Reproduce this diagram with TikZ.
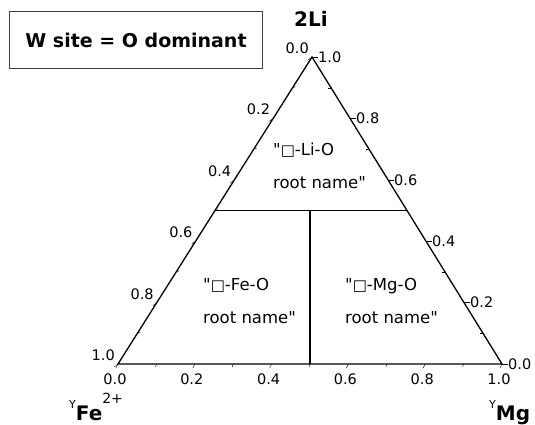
\documentclass[tikz,border=0pt]{standalone}
\usepackage{fontspec}
\setmainfont{DejaVu Sans}[Ligatures=TeXOff]
\usepackage{tikz}
\usetikzlibrary{calc}
\newcommand{\vac}{{\fontsize{15}{15}\selectfont □}}
\tikzstyle{ticklabel} = [inner sep=0pt, font=\fontsize{14.5}{14.5}\selectfont]
\tikzstyle{region}    = [align=left, inner sep=0pt, font=\fontsize{16.5}{33}\selectfont]
\tikzstyle{corner}    = [inner sep=0pt, font=\fontsize{20}{20}\selectfont\bfseries]
\tikzstyle{edge}      = [line width=1.3pt]
\tikzstyle{divider}   = [line width=1.1pt]
\tikzstyle{infobox}   = [draw=black!75, line width=0.8pt, minimum width=253pt, minimum height=57pt, font=\fontsize{19}{19}\selectfont\bfseries]

\begin{document}
\begin{tikzpicture}[x=1pt, y=-1pt]
    \useasboundingbox (0,0) rectangle (535,425);
    \coordinate (li) at (312,57);
    \coordinate (fe) at (118,364);
    \coordinate (mg) at (502,364);

    \draw[edge] (li) -- (fe) -- (mg) -- cycle;

    % field boundaries
    \coordinate (lm) at ($(li)!0.5!(fe)$);
    \coordinate (rm) at ($(li)!0.5!(mg)$);
    \coordinate (bm) at ($(fe)!0.5!(mg)$);
    \draw[divider] (lm) -- (rm);
    \draw[divider] (lm -| bm) -- (bm);

    % left axis
    \foreach \v/\t [count=\i] in {0/0.0, 0.2/0.2, 0.4/0.4, 0.6/0.6, 0.8/0.8, 1/1.0} {
        \draw ($(li)!\v!(fe)$) -- ++(-4,3);
        \node[ticklabel, anchor=south east] (lt\i) at ($(li)!\v!(fe)+(-3,-3)$) {\t};
    }
    \foreach \v in {0.1,0.3,0.5,0.7,0.9}
        \draw ($(li)!\v!(fe)$) -- ++(3,-1);

    % right axis
    \foreach \v/\t [count=\i] in {0/1.0, 0.2/0.8, 0.4/0.6, 0.6/0.4, 0.8/0.2, 1/0.0} {
        \draw ($(li)!\v!(mg)$) -- ++(6,0);
        \node[ticklabel, anchor=west] (rt\i) at ($(li)!\v!(mg)+(6,0)$) {\t};
    }
    \foreach \v in {0.1,0.3,0.5,0.7,0.9}
        \draw ($(li)!\v!(mg)$) -- ++(-3,0);

    % bottom axis
    \foreach \v/\t [count=\i] in {0/0.0, 0.2/0.2, 0.4/0.4, 0.6/0.6, 0.8/0.8, 1/1.0} {
        \draw ($(fe)!\v!(mg)$) -- ++(-2,4);
        \node[ticklabel, anchor=north] (bt\i) at ($(fe)!\v!(mg)+(-3,10)$) {\t};
    }
    \foreach \v in {0.1,0.3,0.5,0.7,0.9}
        \draw ($(fe)!\v!(mg)$) -- ++(-1,3);

    % end members
    \node[corner] (lilab) at (311,19) {2Li};
    \node[corner, anchor=base west] (felab) at (69,420)
        {\raisebox{12pt}{\fontsize{11}{11}\selectfont\mdseries Y}Fe\raisebox{17pt}{\fontsize{14}{14}\selectfont\mdseries 2+}};
    \node[corner, anchor=base west] (mglab) at (489,420)
        {\raisebox{12pt}{\fontsize{11}{11}\selectfont\mdseries Y}Mg};

    % root names
    \node[region, anchor=north west] (lireg) at (273,143) {"\vac-Li-O\\root name"};
    \node[region, anchor=north west] (fereg) at (203,278) {"\vac-Fe-O\\root name"};
    \node[region, anchor=north west] (mgreg) at (345,278) {"\vac-Mg-O\\root name"};

    \node[infobox] (wsite) at (136,40) {W site = O dominant};
\end{tikzpicture}
\end{document}
